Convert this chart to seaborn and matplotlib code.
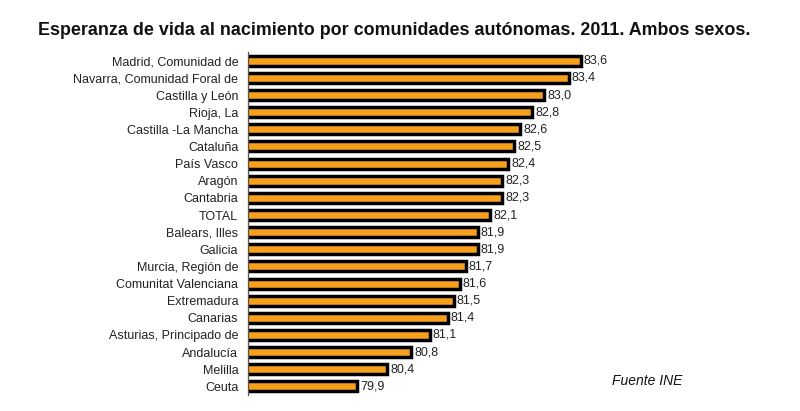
import numpy as np
import pandas as pd
import matplotlib
matplotlib.use("Agg")
import matplotlib.pyplot as plt
import seaborn as sns

# Esperanza de vida al nacimiento, 2011, ambos sexos (INE)
COMUNIDADES = [
    "Madrid, Comunidad de", "Navarra, Comunidad Foral de", "Castilla y León",
    "Rioja, La", "Castilla -La Mancha", "Cataluña", "País Vasco", "Aragón",
    "Cantabria", "TOTAL", "Balears, Illes", "Galicia", "Murcia, Región de",
    "Comunitat Valenciana", "Extremadura", "Canarias", "Asturias, Principado de",
    "Andalucía", "Melilla", "Ceuta",
]
ESPERANZA = [
    83.6, 83.4, 83.0, 82.8, 82.6, 82.5, 82.4, 82.3, 82.3, 82.1,
    81.9, 81.9, 81.7, 81.6, 81.5, 81.4, 81.1, 80.8, 80.4, 79.9,
]

BAR_COLOR = "#F7A01E"

df = pd.DataFrame({"comunidad": COMUNIDADES, "esperanza": ESPERANZA})

sns.set_style("white")
plt.rcParams["font.family"] = ["Liberation Sans", "DejaVu Sans"]

fig = plt.figure(figsize=(8.0, 4.11), dpi=100)
ax = fig.add_axes([0.31, 0.039, 0.605, 0.834])

sns.barplot(data=df, x="esperanza", y="comunidad", orient="h",
            color=BAR_COLOR, edgecolor="black", linewidth=2.5,
            width=0.58, saturation=1, ax=ax)

ax.set_xlim(78.1, 86.1)
ax.set_ylim(len(COMUNIDADES) - 0.5, -0.5)

# value labels with decimal comma
for i, v in enumerate(ESPERANZA):
    ax.text(v + 0.05, i, f"{v:.1f}".replace(".", ","), va="center", ha="left",
            fontsize=9, color="#222222")

ax.set_xlabel("")
ax.set_ylabel("")
ax.set_xticks([])
ax.tick_params(axis="y", length=0, labelsize=9, pad=7, labelcolor="#222222")
ax.set_yticks(np.arange(-0.5, len(COMUNIDADES), 1), minor=True)
ax.tick_params(axis="y", which="minor", length=4, width=0.8, color="#555555")

for side in ["top", "right", "bottom"]:
    ax.spines[side].set_visible(False)
ax.spines["left"].set_color("#555555")
ax.spines["left"].set_linewidth(0.9)

fig.text(0.047, 0.925, "Esperanza de vida al nacimiento por comunidades autónomas. 2011. Ambos sexos.",
         fontsize=12.9, fontweight="bold", ha="left", va="center", color="#111111")
fig.text(0.765, 0.072, "Fuente INE", fontsize=10, style="italic", ha="left",
         va="center", color="#111111")

fig.savefig("out.png", dpi=100)
